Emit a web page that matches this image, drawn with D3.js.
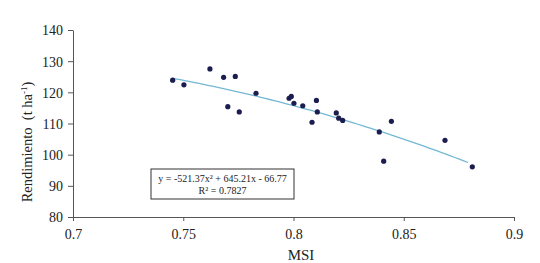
<!DOCTYPE html>
<html>
<head>
<meta charset="utf-8">
<script src="https://cdn.jsdelivr.net/npm/d3@7"></script>
<style>
  body { margin: 0; background: #fff; }
  svg text { font-family: "Liberation Serif", "Times New Roman", serif; fill: #222; }
</style>
</head>
<body>
<div id="root"></div>
<script>
// data
var msi = [0.7452, 0.7503, 0.7621, 0.7683, 0.7736, 0.7702, 0.7754, 0.7830,
           0.7980, 0.7990, 0.8002, 0.8042, 0.8104, 0.8108, 0.8084, 0.8194,
           0.8205, 0.8223, 0.8389, 0.8444, 0.8409, 0.8687, 0.8811]
var yieldT = [123.9, 122.4, 127.5, 124.8, 125.1, 115.4, 113.7, 119.7,
              118.1, 118.7, 116.5, 115.7, 117.4, 113.7, 110.4, 113.4,
              111.7, 111.0, 107.3, 110.7, 97.9, 104.6, 96.1]
var xTicks = [0.7, 0.75, 0.8, 0.85, 0.9]
var yTicks = [80, 90, 100, 110, 120, 130, 140]
// polynomial trend shown in the chart: a*x^2 + b*x + c
var trendCoef = [-521.37, 645.21, -66.77]

function drawChart(){
  var width = 540, height = 263
  var margin = { top: 30, right: 26, bottom: 46, left: 73 }

  var svg = d3.select("#root").append("svg")
    .attr("width", width)
    .attr("height", height)

  var x = d3.scaleLinear().domain([0.7, 0.9]).range([margin.left, width - margin.right])
  var y = d3.scaleLinear().domain([80, 140]).range([height - margin.bottom, margin.top])

  // axes
  var xAxis = svg.append("g")
    .attr("transform", "translate(0," + y(80) + ")")
    .call(d3.axisBottom(x).tickValues(xTicks).tickSize(4).tickSizeOuter(0)
      .tickFormat(function(d){ return d3.format("")(+d.toFixed(2)) }))
  var yAxis = svg.append("g")
    .attr("transform", "translate(" + x(0.7) + ",0)")
    .call(d3.axisLeft(y).tickValues(yTicks).tickSize(5).tickSizeOuter(0))

  svg.selectAll(".domain, .tick line").attr("stroke", "#555")
  xAxis.selectAll("text").attr("font-size", 14).attr("y", 10).attr("dy", "0.85em")
  yAxis.selectAll("text").attr("font-size", 14).attr("x", -10).attr("dy", "0.35em")
  svg.selectAll(".tick text").style("font-family", "Liberation Serif, serif").attr("fill", "#222")

  // trend line
  var xs = d3.range(msi[0], d3.max(msi) + 0.0001, 0.002)
  var line = d3.line()
    .x(function(d){ return x(d) })
    .y(function(d){ return y(trendCoef[0]*d*d + trendCoef[1]*d + trendCoef[2]) })
  svg.append("path")
    .datum(xs)
    .attr("d", line)
    .attr("fill", "none")
    .attr("stroke", "#74b8d4")
    .attr("stroke-width", 1.3)

  // points
  svg.selectAll(".pt")
    .data(msi)
    .enter().append("circle")
    .attr("class", "pt")
    .attr("cx", function(d){ return x(d) })
    .attr("cy", function(d, i){ return y(yieldT[i]) })
    .attr("r", 2.6)
    .attr("fill", "#1b1d4f")

  // equation box
  var box = svg.append("g").attr("transform", "translate(151,169)")
  box.append("rect")
    .attr("width", 143).attr("height", 30)
    .attr("fill", "#fff").attr("stroke", "#333").attr("stroke-width", 1)
  box.append("text")
    .attr("x", 71.5).attr("y", 13).attr("text-anchor", "middle").attr("font-size", 10)
    .text("y = -521.37x² + 645.21x - 66.77")
  box.append("text")
    .attr("x", 71.5).attr("y", 25).attr("text-anchor", "middle").attr("font-size", 10)
    .text("R² = 0.7827")

  // axis titles
  svg.append("text")
    .attr("x", 301).attr("y", 260)
    .attr("text-anchor", "middle").attr("font-size", 15)
    .text("MSI")

  var yl = svg.append("text")
    .attr("transform", "translate(32,142) rotate(-90)")
    .attr("text-anchor", "middle").attr("font-size", 14.5)
    .style("white-space", "pre")
  yl.append("tspan").text("Rendimiento  (t ha")
  yl.append("tspan").attr("dy", -5).attr("font-size", 9).text("-1")
  yl.append("tspan").attr("dy", 5).text(")")
}
drawChart()
</script>
</body>
</html>
